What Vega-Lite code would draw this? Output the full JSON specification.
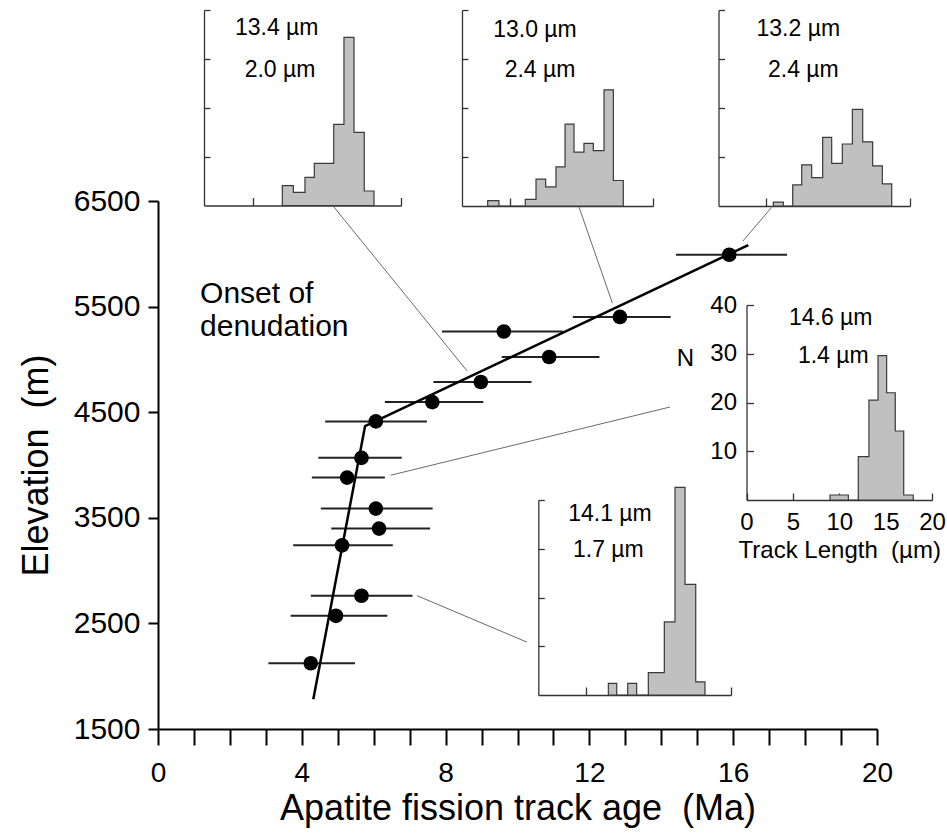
{
  "$schema": "https://vega.github.io/schema/vega-lite/v6.json",
  "width": 719,
  "height": 528,
  "autosize": {"type": "none"},
  "padding": {"left": 158, "top": 201, "right": 70, "bottom": 109},
  "background": "white",
  "config": {
    "view": {"stroke": null},
    "font": "Liberation Sans",
    "axis": {"grid": false, "labelFont": "Liberation Sans", "titleFont": "Liberation Sans", "titleFontWeight": "normal", "labelColor": "black", "titleColor": "black", "domainColor": "black", "tickColor": "black", "labelFlush": false, "labelOverlap": false, "labelBound": false}
  },
  "resolve": {"scale": {"x": "independent", "y": "independent"}, "axis": {"x": "independent", "y": "independent"}},
  "datasets": {
    "pts": [
      {"age": 4.25, "elev": 2123, "lo": 3.07, "hi": 5.48},
      {"age": 4.95, "elev": 2572, "lo": 3.69, "hi": 6.38},
      {"age": 5.66, "elev": 2762, "lo": 4.25, "hi": 7.08},
      {"age": 5.12, "elev": 3239, "lo": 3.76, "hi": 6.53},
      {"age": 6.15, "elev": 3398, "lo": 4.82, "hi": 7.57},
      {"age": 6.06, "elev": 3587, "lo": 4.53, "hi": 7.64},
      {"age": 5.26, "elev": 3881, "lo": 4.28, "hi": 6.31},
      {"age": 5.66, "elev": 4068, "lo": 4.46, "hi": 6.78},
      {"age": 6.06, "elev": 4413, "lo": 4.65, "hi": 7.48},
      {"age": 7.63, "elev": 4596, "lo": 6.31, "hi": 9.05},
      {"age": 8.98, "elev": 4786, "lo": 7.66, "hi": 10.39},
      {"age": 10.88, "elev": 5023, "lo": 9.56, "hi": 12.28},
      {"age": 9.62, "elev": 5264, "lo": 7.9, "hi": 11.26},
      {"age": 12.85, "elev": 5402, "lo": 11.54, "hi": 14.26},
      {"age": 15.89, "elev": 5991, "lo": 14.41, "hi": 17.5}
    ]
  },
  "layer": [
    {
      "data": {"name": "pts"},
      "mark": {"type": "rule", "color": "#222222", "strokeWidth": 2},
      "encoding": {
        "x": {"field": "lo", "type": "quantitative",
          "scale": {"domain": [0, 20], "range": [0, 719], "nice": false, "zero": false},
          "axis": {"orient": "bottom", "values": [0,1,2,3,4,5,6,7,8,9,10,11,12,13,14,15,16,17,18,19,20],
            "labelExpr": "datum.value % 4 === 0 ? datum.label : ''", "tickSize": 16, "tickWidth": 2, "domainWidth": 2,
            "labelFontSize": 28, "labelPadding": 14, "titleFontSize": 36, "titlePadding": 4,
            "title": "Apatite fission track age\u00a0 (Ma)",
            "encode": {"ticks": {"update": {"y2": {"signal": "datum.value % 4 === 0 ? 16 : 11"}}}}}},
        "x2": {"field": "hi"},
        "y": {"field": "elev", "type": "quantitative",
          "scale": {"domain": [1500, 6500], "range": [528, 0], "nice": false, "zero": false},
          "axis": {"orient": "left", "values": [1500, 2500, 3500, 4500, 5500, 6500], "format": "d",
            "tickSize": 10, "tickWidth": 2, "domainWidth": 2, "labelFontSize": 30, "labelPadding": 8,
            "titleFontSize": 36, "titlePadding": 18, "title": "Elevation\u00a0 (m)"}}
      }
    },
    {
      "data": {"values": [
        {"age": 4.32, "elev": 1782},
        {"age": 5.76, "elev": 4368},
        {"age": 16.42, "elev": 6083}
      ]},
      "mark": {"type": "line", "color": "black", "strokeWidth": 2.5},
      "encoding": {
        "x": {"field": "age", "type": "quantitative", "axis": null, "scale": {"domain": [0, 20], "range": [0, 719], "nice": false, "zero": false}},
        "y": {"field": "elev", "type": "quantitative", "axis": null, "scale": {"domain": [1500, 6500], "range": [528, 0], "nice": false, "zero": false}}
      }
    },
    {
      "data": {"name": "pts"},
      "mark": {"type": "circle", "color": "black", "opacity": 1, "size": 215},
      "encoding": {
        "x": {"field": "age", "type": "quantitative", "axis": null, "scale": {"domain": [0, 20], "range": [0, 719], "nice": false, "zero": false}},
        "y": {"field": "elev", "type": "quantitative", "axis": null, "scale": {"domain": [1500, 6500], "range": [528, 0], "nice": false, "zero": false}}
      }
    },
    {
      "data": {"values": [
        {"ax": 4.87, "ay": 6453, "bx": 8.6, "by": 4890},
        {"ax": 11.7, "ay": 6453, "bx": 12.64, "by": 5533},
        {"ax": 17.07, "ay": 6440, "bx": 16.27, "by": 6121},
        {"ax": 14.24, "ay": 4549, "bx": 6.47, "by": 3903},
        {"ax": 7.21, "ay": 2762, "bx": 10.26, "by": 2323}
      ]},
      "mark": {"type": "rule", "color": "#6a6a6a", "strokeWidth": 1},
      "encoding": {
        "x": {"field": "ax", "type": "quantitative", "axis": null, "scale": {"domain": [0, 20], "range": [0, 719], "nice": false, "zero": false}},
        "y": {"field": "ay", "type": "quantitative", "axis": null, "scale": {"domain": [1500, 6500], "range": [528, 0], "nice": false, "zero": false}},
        "x2": {"field": "bx"},
        "y2": {"field": "by"}
      }
    },
    {
      "data": {"values": [{"x": 1.17, "y": 5530, "t": "Onset of"}, {"x": 1.17, "y": 5222, "t": "denudation"}]},
      "mark": {"type": "text", "align": "left", "baseline": "alphabetic", "fontSize": 30, "color": "black"},
      "encoding": {
        "x": {"field": "x", "type": "quantitative", "axis": null, "scale": {"domain": [0, 20], "range": [0, 719], "nice": false, "zero": false}},
        "y": {"field": "y", "type": "quantitative", "axis": null, "scale": {"domain": [1500, 6500], "range": [528, 0], "nice": false, "zero": false}},
        "text": {"field": "t"}
      }
    },
    {
      "data": {"values": [
        {"lo": 7.95, "hi": 9.07, "n": 4.05}, {"lo": 9.07, "hi": 10.25, "n": 2.7}, {"lo": 10.25, "hi": 11.2, "n": 5.77},
        {"lo": 11.2, "hi": 13.17, "n": 8.63}, {"lo": 13.17, "hi": 14.21, "n": 16.6}, {"lo": 14.21, "hi": 15.23, "n": 34.4},
        {"lo": 15.23, "hi": 16.27, "n": 14.97}, {"lo": 16.27, "hi": 17.26, "n": 2.97}
      ]},
      "transform": [{"fold": ["lo", "hi"], "as": ["edge", "len"]}],
      "mark": {"type": "area", "fill": "#c0c0c0", "stroke": "#3a3a3a", "strokeWidth": 1.2, "interpolate": "linear"},
      "encoding": {
        "x": {"field": "len", "type": "quantitative",
          "scale": {"domain": [0, 20], "range": [46, 243], "nice": false, "zero": false},
          "axis": {"orient": "bottom", "offset": -523.5, "values": [5, 10, 15, 20], "labels": false, "tickSize": -8, "title": null, "domainColor": "#333333", "domainWidth": 1.3, "tickColor": "#333333", "tickWidth": 1.3}},
        "y": {"field": "n", "type": "quantitative", "stack": null,
          "scale": {"domain": [0, 40], "range": [4.5, -191], "nice": false},
          "axis": {"orient": "left", "offset": -46, "values": [10, 20, 30, 40], "labels": false, "tickSize": -6, "title": null, "domainColor": "#333333", "domainWidth": 1.3, "tickColor": "#333333", "tickWidth": 1.3}}
      }
    },
    {
      "data": {"values": [{"x": 7.38, "y": 36.3, "t": "13.4 µm"}, {"x": 7.72, "y": 27.7, "t": "2.0 µm"}]},
      "mark": {"type": "text", "fontSize": 23, "align": "center", "baseline": "middle", "color": "black"},
      "encoding": {
        "x": {"field": "x", "type": "quantitative", "axis": null, "scale": {"domain": [0, 20], "range": [46, 243], "nice": false, "zero": false}},
        "y": {"field": "y", "type": "quantitative", "axis": null, "scale": {"domain": [0, 40], "range": [4.5, -191], "nice": false}},
        "text": {"field": "t"}
      }
    },
    {
      "data": {"values": [
        {"lo": 2.69, "hi": 3.87, "n": 1.1}, {"lo": 3.87, "hi": 6.63, "n": 0}, {"lo": 6.63, "hi": 7.75, "n": 1.37},
        {"lo": 7.75, "hi": 8.76, "n": 5.5}, {"lo": 8.76, "hi": 9.84, "n": 3.9}, {"lo": 9.84, "hi": 10.79, "n": 8.0},
        {"lo": 10.79, "hi": 11.73, "n": 16.7}, {"lo": 11.73, "hi": 12.77, "n": 11.0}, {"lo": 12.77, "hi": 13.75, "n": 12.8},
        {"lo": 13.75, "hi": 14.87, "n": 11.3}, {"lo": 14.87, "hi": 15.85, "n": 23.7}, {"lo": 15.85, "hi": 16.89, "n": 5.2}
      ]},
      "transform": [{"fold": ["lo", "hi"], "as": ["edge", "len"]}],
      "mark": {"type": "area", "fill": "#c0c0c0", "stroke": "#3a3a3a", "strokeWidth": 1.2, "interpolate": "linear"},
      "encoding": {
        "x": {"field": "len", "type": "quantitative",
          "scale": {"domain": [0, 20], "range": [304, 495], "nice": false, "zero": false},
          "axis": {"orient": "bottom", "offset": -523, "values": [5, 10, 15, 20], "labels": false, "tickSize": -8, "title": null, "domainColor": "#333333", "domainWidth": 1.3, "tickColor": "#333333", "tickWidth": 1.3}},
        "y": {"field": "n", "type": "quantitative", "stack": null,
          "scale": {"domain": [0, 40], "range": [5, -191], "nice": false},
          "axis": {"orient": "left", "offset": -304, "values": [10, 20, 30, 40], "labels": false, "tickSize": -6, "title": null, "domainColor": "#333333", "domainWidth": 1.3, "tickColor": "#333333", "tickWidth": 1.3}}
      }
    },
    {
      "data": {"values": [{"x": 7.64, "y": 35.9, "t": "13.0 µm"}, {"x": 8.17, "y": 27.8, "t": "2.4 µm"}]},
      "mark": {"type": "text", "fontSize": 23, "align": "center", "baseline": "middle", "color": "black"},
      "encoding": {
        "x": {"field": "x", "type": "quantitative", "axis": null, "scale": {"domain": [0, 20], "range": [304, 495], "nice": false, "zero": false}},
        "y": {"field": "y", "type": "quantitative", "axis": null, "scale": {"domain": [0, 40], "range": [5, -191], "nice": false}},
        "text": {"field": "t"}
      }
    },
    {
      "data": {"values": [
        {"lo": 5.73, "hi": 6.77, "n": 0.8}, {"lo": 6.77, "hi": 7.75, "n": 0}, {"lo": 7.75, "hi": 8.69, "n": 4.3},
        {"lo": 8.69, "hi": 9.73, "n": 8.4}, {"lo": 9.73, "hi": 10.88, "n": 5.8}, {"lo": 10.88, "hi": 11.82, "n": 14.0},
        {"lo": 11.82, "hi": 12.93, "n": 8.7}, {"lo": 12.93, "hi": 13.98, "n": 12.65}, {"lo": 13.98, "hi": 15.06, "n": 19.7},
        {"lo": 15.06, "hi": 16.1, "n": 13.1}, {"lo": 16.1, "hi": 17.11, "n": 8.2}, {"lo": 17.11, "hi": 18.09, "n": 4.5}
      ]},
      "transform": [{"fold": ["lo", "hi"], "as": ["edge", "len"]}],
      "mark": {"type": "area", "fill": "#c0c0c0", "stroke": "#3a3a3a", "strokeWidth": 1.2, "interpolate": "linear"},
      "encoding": {
        "x": {"field": "len", "type": "quantitative",
          "scale": {"domain": [0, 20], "range": [560.5, 752], "nice": false, "zero": false},
          "axis": {"orient": "bottom", "offset": -523, "values": [5, 10, 15, 20], "labels": false, "tickSize": -8, "title": null, "domainColor": "#333333", "domainWidth": 1.3, "tickColor": "#333333", "tickWidth": 1.3}},
        "y": {"field": "n", "type": "quantitative", "stack": null,
          "scale": {"domain": [0, 40], "range": [5, -191], "nice": false},
          "axis": {"orient": "left", "offset": -560.5, "values": [10, 20, 30, 40], "labels": false, "tickSize": -6, "title": null, "domainColor": "#333333", "domainWidth": 1.3, "tickColor": "#333333", "tickWidth": 1.3}}
      }
    },
    {
      "data": {"values": [{"x": 8.33, "y": 36.1, "t": "13.2 µm"}, {"x": 8.86, "y": 27.8, "t": "2.4 µm"}]},
      "mark": {"type": "text", "fontSize": 23, "align": "center", "baseline": "middle", "color": "black"},
      "encoding": {
        "x": {"field": "x", "type": "quantitative", "axis": null, "scale": {"domain": [0, 20], "range": [560.5, 752], "nice": false, "zero": false}},
        "y": {"field": "y", "type": "quantitative", "axis": null, "scale": {"domain": [0, 40], "range": [5, -191], "nice": false}},
        "text": {"field": "t"}
      }
    },
    {
      "data": {"values": [
        {"lo": 9.0, "hi": 10.98, "n": 1.03}, {"lo": 10.98, "hi": 12.05, "n": 0}, {"lo": 12.05, "hi": 13.2, "n": 8.9},
        {"lo": 13.2, "hi": 14.18, "n": 20.5}, {"lo": 14.18, "hi": 15.11, "n": 29.6}, {"lo": 15.11, "hi": 16.04, "n": 22.0},
        {"lo": 16.04, "hi": 16.95, "n": 14.15}, {"lo": 16.95, "hi": 17.98, "n": 1.03}
      ]},
      "transform": [{"fold": ["lo", "hi"], "as": ["edge", "len"]}],
      "mark": {"type": "area", "fill": "#c0c0c0", "stroke": "#3a3a3a", "strokeWidth": 1.2, "interpolate": "linear"},
      "encoding": {
        "x": {"field": "len", "type": "quantitative",
          "scale": {"domain": [0, 20], "range": [588.5, 774], "nice": false, "zero": false},
          "axis": {"orient": "bottom", "offset": -229, "values": [0, 5, 10, 15, 20], "labels": true, "labelFontSize": 24, "labelPadding": 17, "tickSize": -7,
            "title": "Track Length\u00a0 (µm)", "titleFontSize": 24, "titlePadding": 4,
            "domainColor": "#333333", "domainWidth": 1.3, "tickColor": "#333333", "tickWidth": 1.3}},
        "y": {"field": "n", "type": "quantitative", "stack": null,
          "scale": {"domain": [0, 40], "range": [299, 104], "nice": false},
          "axis": {"orient": "left", "offset": -588.5, "values": [10, 20, 30, 40], "labels": true, "labelFontSize": 24, "labelPadding": 17, "tickSize": -7,
            "title": "N", "titleAngle": 0, "titleFontSize": 24, "titleX": -61.5, "titleY": 157, "titleAlign": "center", "titleBaseline": "middle",
            "domainColor": "#333333", "domainWidth": 1.3, "tickColor": "#333333", "tickWidth": 1.3}}
      }
    },
    {
      "data": {"values": [{"x": 9.08, "y": 37.3, "t": "14.6 µm"}, {"x": 9.36, "y": 29.5, "t": "1.4 µm"}]},
      "mark": {"type": "text", "fontSize": 23, "align": "center", "baseline": "middle", "color": "black"},
      "encoding": {
        "x": {"field": "x", "type": "quantitative", "axis": null, "scale": {"domain": [0, 20], "range": [588.5, 774], "nice": false, "zero": false}},
        "y": {"field": "y", "type": "quantitative", "axis": null, "scale": {"domain": [0, 40], "range": [299, 104], "nice": false}},
        "text": {"field": "t"}
      }
    },
    {
      "data": {"values": [
        {"lo": 7.27, "hi": 8.14, "n": 2.4}, {"lo": 8.14, "hi": 9.28, "n": 0}, {"lo": 9.28, "hi": 10.21, "n": 2.4},
        {"lo": 10.21, "hi": 11.42, "n": 0}, {"lo": 11.42, "hi": 13.08, "n": 4.6}, {"lo": 13.08, "hi": 14.19, "n": 15.0},
        {"lo": 14.19, "hi": 15.23, "n": 42.6}, {"lo": 15.23, "hi": 16.34, "n": 22.7}, {"lo": 16.34, "hi": 17.3, "n": 2.7}
      ]},
      "transform": [{"fold": ["lo", "hi"], "as": ["edge", "len"]}],
      "mark": {"type": "area", "fill": "#c0c0c0", "stroke": "#3a3a3a", "strokeWidth": 1.2, "interpolate": "linear"},
      "encoding": {
        "x": {"field": "len", "type": "quantitative",
          "scale": {"domain": [0, 20], "range": [380.3, 573], "nice": false, "zero": false},
          "axis": {"orient": "bottom", "offset": -34, "values": [5, 10, 15, 20], "labels": false, "tickSize": -8, "title": null, "domainColor": "#333333", "domainWidth": 1.3, "tickColor": "#333333", "tickWidth": 1.3}},
        "y": {"field": "n", "type": "quantitative", "stack": null,
          "scale": {"domain": [0, 40], "range": [494, 299], "nice": false},
          "axis": {"orient": "left", "offset": -380.3, "values": [10, 20, 30, 40], "labels": false, "tickSize": -6, "title": null, "domainColor": "#333333", "domainWidth": 1.3, "tickColor": "#333333", "tickWidth": 1.3}}
      }
    },
    {
      "data": {"values": [{"x": 7.44, "y": 37.1, "t": "14.1 µm"}, {"x": 7.27, "y": 29.7, "t": "1.7 µm"}]},
      "mark": {"type": "text", "fontSize": 23, "align": "center", "baseline": "middle", "color": "black"},
      "encoding": {
        "x": {"field": "x", "type": "quantitative", "axis": null, "scale": {"domain": [0, 20], "range": [380.3, 573], "nice": false, "zero": false}},
        "y": {"field": "y", "type": "quantitative", "axis": null, "scale": {"domain": [0, 40], "range": [494, 299], "nice": false}},
        "text": {"field": "t"}
      }
    }
  ]
}
